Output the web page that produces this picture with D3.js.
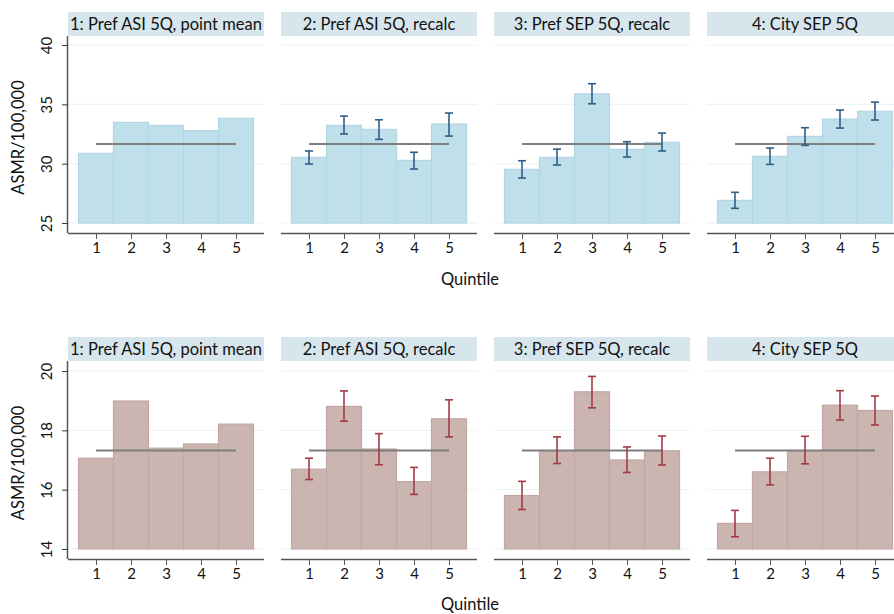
<!DOCTYPE html>
<html>
<head>
<meta charset="utf-8">
<script src="https://cdn.jsdelivr.net/npm/d3@7"></script>
<style>
  html, body { margin: 0; padding: 0; background: #fff; }
  svg { display: block; font-family: Lato, "Open Sans", sans-serif; }
</style>
</head>
<body>
<svg id="chart" width="894" height="614"></svg>
<script>
// ---- data ----
const quintiles = [1, 2, 3, 4, 5];
const panelTitles = ["1: Pref ASI 5Q, point mean", "2: Pref ASI 5Q, recalc", "3: Pref SEP 5Q, recalc", "4: City SEP 5Q"];

const topValues = [
  [30.87, 33.48, 33.23, 32.78, 33.82],
  [30.53, 33.23, 32.89, 30.28, 33.34],
  [29.52, 30.53, 35.89, 31.21, 31.80],
  [26.91, 30.62, 32.30, 33.76, 34.41]
];
const topLower = [null,
  [29.97, 32.50, 32.05, 29.55, 32.33],
  [28.79, 29.89, 35.05, 30.56, 31.07],
  [26.24, 29.94, 31.54, 33.00, 33.68]
];
const topUpper = [null,
  [31.07, 34.01, 33.70, 30.96, 34.27],
  [30.25, 31.23, 36.74, 31.85, 32.58],
  [27.59, 31.32, 33.03, 34.52, 35.19]
];
const topOverall = 31.66;
const topBase = 25;
const topTicks = [25, 30, 35, 40];

const bottomValues = [
  [17.06, 18.99, 17.40, 17.54, 18.21],
  [16.69, 18.81, 17.37, 16.27, 18.39],
  [15.80, 17.32, 19.30, 17.00, 17.31],
  [14.86, 16.60, 17.29, 18.85, 18.67]
];
const bottomLower = [null,
  [16.34, 18.31, 16.84, 15.84, 17.78],
  [15.33, 16.88, 18.76, 16.58, 16.83],
  [14.41, 16.16, 16.87, 18.35, 18.18]
];
const bottomUpper = [null,
  [17.06, 19.33, 17.89, 16.75, 19.03],
  [16.28, 17.78, 19.82, 17.44, 17.81],
  [15.30, 17.06, 17.80, 19.34, 19.16]
];
const bottomOverall = 17.32;
const bottomBase = 14;
const bottomTicks = [14, 16, 18, 20];

const yLabel = "ASMR/100,000";
const xLabel = "Quintile";

// ---- layout ----
const svg = d3.select("#chart");
const panelW = 196, panelGap = 17, panelX0 = 68;
const FONT = "Lato, 'Open Sans', sans-serif";

const rows = [
  { values: topValues, lower: topLower, upper: topUpper, overall: topOverall, base: topBase, ticks: topTicks,
    domain: [24.16, 40.76], y0: 36, y1: 233, stripTop: 12,
    fill: "#bfe0ea", stroke: "#b2d7e3", err: "#2f5e88", xLabelY: 285 },
  { values: bottomValues, lower: bottomLower, upper: bottomUpper, overall: bottomOverall, base: bottomBase, ticks: bottomTicks,
    domain: [13.66, 20.34], y0: 361, y1: 559, stripTop: 337,
    fill: "#cbb5b1", stroke: "#c2a7a3", err: "#a33a44", xLabelY: 610 }
];

rows.forEach(row => {
  const y = d3.scaleLinear().domain(row.domain).range([row.y1, row.y0]);

  panelTitles.forEach((title, p) => {
    const left = panelX0 + p * (panelW + panelGap);
    const x = d3.scaleLinear().domain([0.2, 5.8]).range([left, left + panelW]);
    const g = svg.append("g");

    // strip
    g.append("rect").attr("x", left).attr("y", row.stripTop)
      .attr("width", panelW).attr("height", row.y0 - row.stripTop)
      .attr("fill", "#d7e6ec");
    g.append("text").attr("x", left + panelW / 2).attr("y", row.stripTop + (row.y0 - row.stripTop) / 2 + 5.5)
      .attr("text-anchor", "middle").attr("font-size", 16.5).attr("fill", "#111").text(title);

    // gridlines
    g.selectAll(".grid").data(row.ticks).enter().append("line")
      .attr("x1", left).attr("x2", left + panelW)
      .attr("y1", d => y(d)).attr("y2", d => y(d))
      .attr("stroke", "#eaf2f5").attr("stroke-width", 1);

    // bars
    const vals = row.values[p];
    g.selectAll(".bar").data(quintiles).enter().append("rect")
      .attr("x", (d) => x(d - 0.5))
      .attr("width", (d) => x(d + 0.5) - x(d - 0.5))
      .attr("y", (d, i) => y(vals[i]))
      .attr("height", (d, i) => y(row.base) - y(vals[i]))
      .attr("fill", row.fill).attr("stroke", row.stroke).attr("stroke-width", 1.2);

    // overall mean line
    g.append("line").attr("x1", x(1)).attr("x2", x(5))
      .attr("y1", y(row.overall)).attr("y2", y(row.overall))
      .attr("stroke", "#7f7f7f").attr("stroke-width", 2);

    // error bars
    if (row.lower[p]) {
      const lo = row.lower[p], hi = row.upper[p];
      const eg = g.append("g").attr("stroke", row.err).attr("stroke-width", 1.6).attr("fill", "none");
      quintiles.forEach((q, i) => {
        const cx = x(q);
        eg.append("line").attr("x1", cx).attr("x2", cx).attr("y1", y(lo[i])).attr("y2", y(hi[i]));
        eg.append("line").attr("x1", cx - 4).attr("x2", cx + 4).attr("y1", y(lo[i])).attr("y2", y(lo[i]));
        eg.append("line").attr("x1", cx - 4).attr("x2", cx + 4).attr("y1", y(hi[i])).attr("y2", y(hi[i]));
      });
    }

    // x axis
    const xAxis = d3.axisBottom(x).tickValues(quintiles).tickSize(6).tickPadding(3).tickFormat(d3.format("d"));
    const xa = g.append("g").attr("transform", `translate(0,${row.y1})`).call(xAxis);
    xa.select(".domain").attr("d", `M${left},0.5H${left + panelW}`).attr("stroke", "#555").attr("stroke-width", 1.5);
    xa.selectAll(".tick line").attr("stroke", "#555");
    xa.selectAll(".tick text").attr("font-size", 15).attr("fill", "#111").attr("font-family", FONT);

    // y axis only on first panel
    if (p === 0) {
      const yAxis = d3.axisLeft(y).tickValues(row.ticks).tickSize(6).tickPadding(4).tickFormat(d3.format("d"));
      const ya = g.append("g").attr("transform", `translate(${left},0)`).call(yAxis);
      ya.select(".domain").attr("d", `M-0.5,${row.y0}V${row.y1}`).attr("stroke", "#555").attr("stroke-width", 1.5);
      ya.selectAll(".tick line").attr("stroke", "#333");
      ya.selectAll(".tick text")
        .attr("font-size", 15).attr("fill", "#111").attr("font-family", FONT)
        .attr("text-anchor", "middle").attr("x", null).attr("dy", null)
        .attr("transform", "translate(-16,0) rotate(-90)");
    }
  });

  // y label
  svg.append("text")
    .attr("transform", `translate(24,${(row.y0 + row.y1) / 2 + 3}) rotate(-90)`)
    .attr("text-anchor", "middle").attr("font-size", 16.5).attr("fill", "#111").text(yLabel);
  // x label
  svg.append("text").attr("x", 470).attr("y", row.xLabelY)
    .attr("text-anchor", "middle").attr("font-size", 16.5).attr("fill", "#111").text(xLabel);
});
</script>
</body>
</html>
